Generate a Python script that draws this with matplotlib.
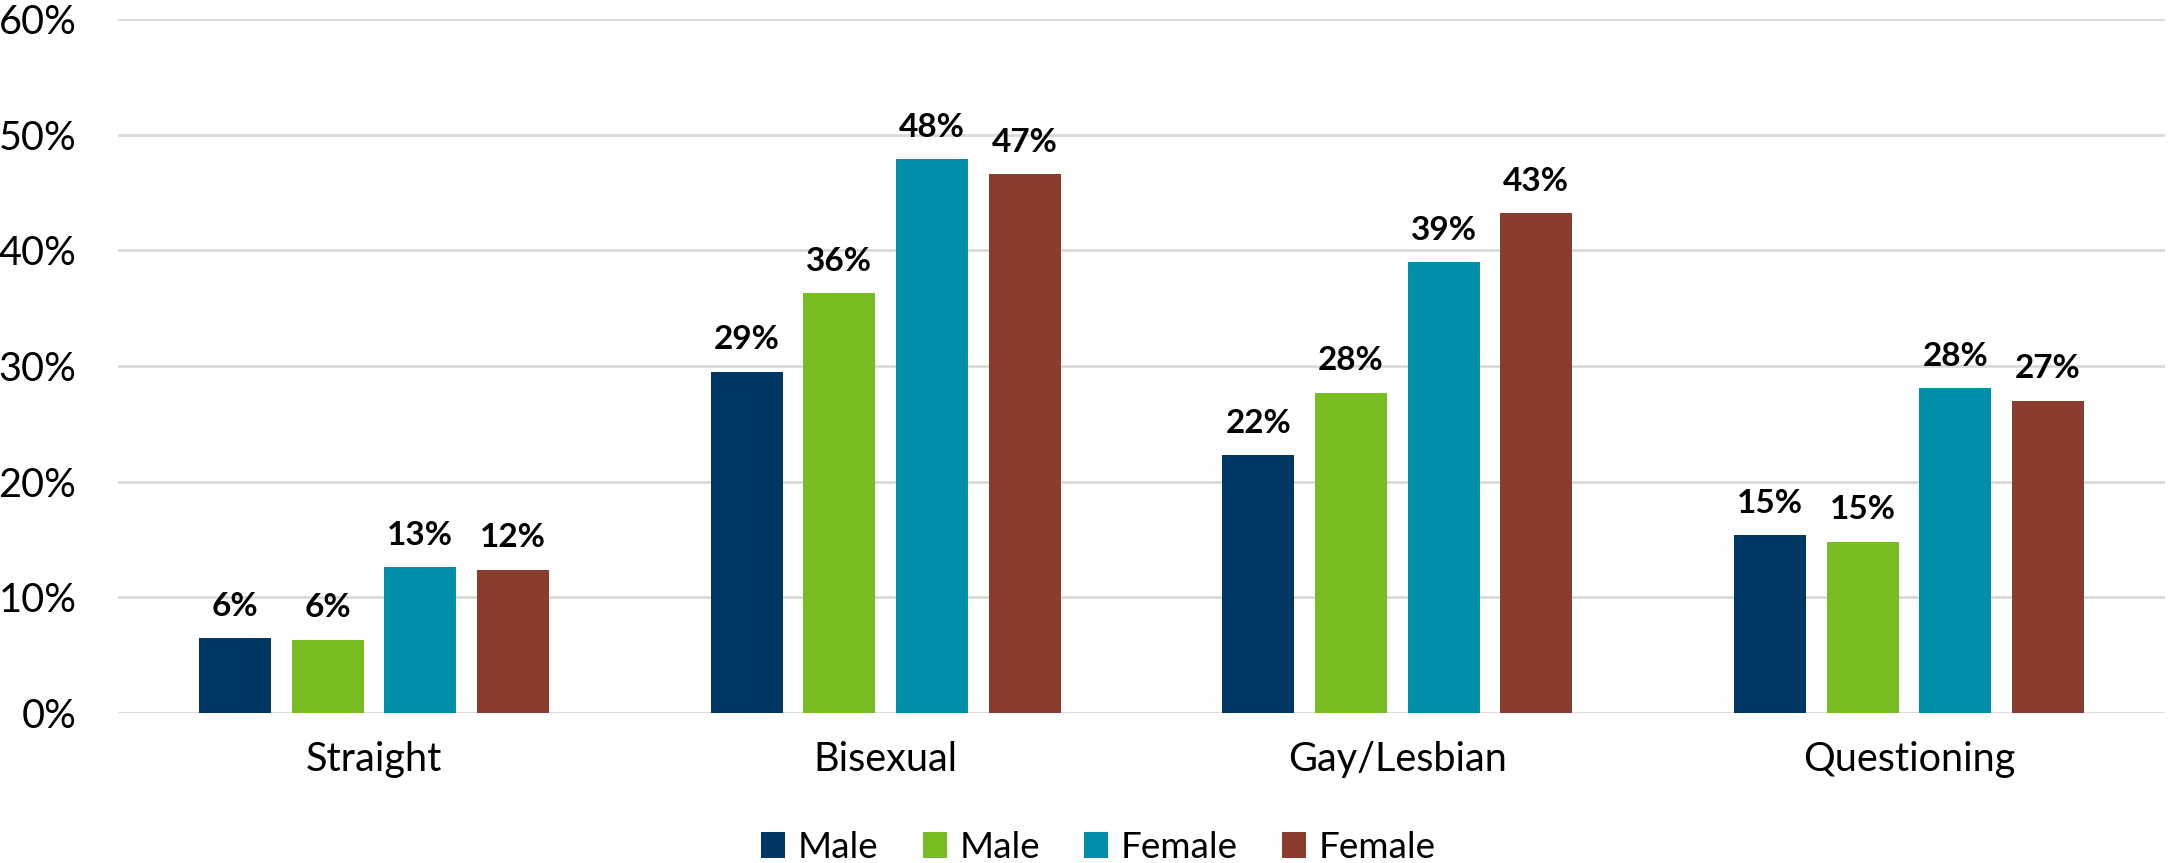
import matplotlib.pyplot as plt
import numpy as np

plt.rcParams['font.family'] = ['Lato', 'DejaVu Sans']

categories = ['Straight', 'Bisexual', 'Gay/Lesbian', 'Questioning']
series_names = ['Male', 'Male', 'Female', 'Female']
male_1 = [6.45, 29.5, 22.3, 15.4]
male_2 = [6.35, 36.3, 27.7, 14.8]
female_1 = [12.6, 47.9, 39.0, 28.1]
female_2 = [12.4, 46.6, 43.2, 27.0]
labels = [
    ['6%', '29%', '22%', '15%'],
    ['6%', '36%', '28%', '15%'],
    ['13%', '48%', '39%', '28%'],
    ['12%', '47%', '43%', '27%'],
]
colors = ['#003865', '#78BE20', '#008EAA', '#8A3D2E']

series = [male_1, male_2, female_1, female_2]

fig = plt.figure(figsize=(21.68, 8.63), dpi=100)
ax = fig.add_axes([118 / 2168, 1 - 713 / 863, (2165 - 118) / 2168, (713 - 19) / 863])

x = np.arange(len(categories))
width = 0.1405
step = 0.181
for i, (vals, name, col) in enumerate(zip(series, series_names, colors)):
    pos = x + (i - 1.5) * step
    bars = ax.bar(pos, vals, width, color=col, label=name, zorder=3)
    for b, lab in zip(bars, labels[i]):
        ax.text(b.get_x() + b.get_width() / 2, b.get_height() + 1.5, lab,
                ha='center', va='bottom', fontsize=24, fontweight='bold')

ax.set_xlim(-0.5, 3.5)
ax.set_ylim(0, 60)
ax.set_yticks(range(0, 61, 10))
ax.set_yticklabels([f'{v}%' for v in range(0, 61, 10)], fontsize=28.5)
ax.set_xticks(x)
ax.set_xticklabels(categories, fontsize=28.5)
ax.tick_params(axis='both', length=0)
ax.tick_params(axis='y', pad=30)
ax.tick_params(axis='x', pad=20)
ax.grid(axis='y', color='#D9D9D9', linewidth=2, zorder=0)
for s in ax.spines.values():
    s.set_visible(False)

# legend sits a little left of the plot centre in the original
ax.legend(loc='lower center', bbox_to_anchor=(0.479, -0.265), ncol=4, frameon=False,
          fontsize=26.5, handlelength=0.65, handleheight=0.7, handletextpad=0.35,
          columnspacing=1.2)

fig.savefig('out.png', dpi=100)
